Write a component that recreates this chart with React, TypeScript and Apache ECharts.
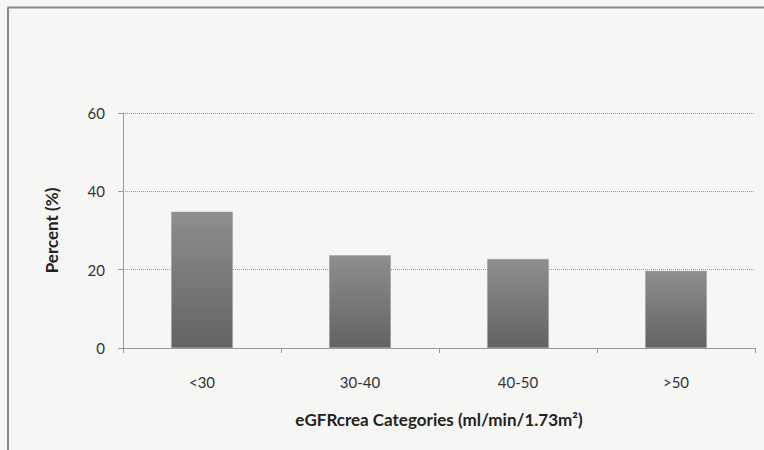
import React, { useEffect, useRef } from "react";
import * as echarts from "echarts";

const categories = ["<30", "30-40", "40-50", ">50"];
const percentValues = [34.8, 23.7, 22.7, 19.7];
const yTicks = [0, 20, 40, 60];

export default function App() {
  const ref = useRef<HTMLDivElement>(null);
  useEffect(() => {
    if (!ref.current) return;
    const chart = echarts.init(ref.current, null, { renderer: "svg" });
    const font = "Lato, 'Open Sans', sans-serif";
    chart.setOption({
      animation: false,
      backgroundColor: "#f6f6f5",
      graphic: [
        { type: "line", shape: { x1: 7.5, y1: 7.5, x2: 764, y2: 7.5 }, style: { stroke: "#8a8a8a", lineWidth: 2 } },
        { type: "line", shape: { x1: 8, y1: 7.5, x2: 8, y2: 450 }, style: { stroke: "#8a8a8a", lineWidth: 2 } },
      ],
      grid: { left: 123, right: 9, top: 113, bottom: 102 },
      xAxis: {
        type: "category",
        data: categories,
        name: "eGFRcrea Categories (ml/min/1.73m²)",
        nameLocation: "middle",
        nameGap: 63,
        nameMoveOverlap: false,
        nameTextStyle: { fontFamily: font, fontSize: 17, fontWeight: "bold", color: "#222" },
        axisLine: { lineStyle: { color: "#999", width: 1 } },
        axisTick: { show: true, length: 5, lineStyle: { color: "#999" } },
        axisLabel: { fontFamily: font, fontSize: 15, color: "#333", margin: 26 },
      },
      yAxis: {
        type: "value",
        min: 0,
        max: 60,
        interval: 20,
        name: "Percent (%)",
        nameLocation: "middle",
        nameGap: 63,
        nameMoveOverlap: false,
        nameTextStyle: { fontFamily: font, fontSize: 17, fontWeight: "bold", color: "#222" },
        axisLine: { show: true, lineStyle: { color: "#999", width: 1 } },
        axisTick: { show: true, length: 5, lineStyle: { color: "#999" } },
        axisLabel: {
          fontFamily: font,
          fontSize: 15,
          color: "#333",
          margin: 18,
          formatter: (v: number) => (yTicks.includes(v) ? String(v) : ""),
        },
        splitLine: { show: true, lineStyle: { color: "#9a9a9a", type: "dotted", width: 1 } },
      },
      series: [
        {
          type: "bar",
          data: percentValues,
          barWidth: "39%",
          itemStyle: {
            color: new echarts.graphic.LinearGradient(0, 0, 0, 1, [
              { offset: 0, color: "#8e8e8e" },
              { offset: 1, color: "#636363" },
            ]),
            borderColor: "#a0a0a0",
            borderWidth: 0.5,
          },
        },
      ],
    });
    return () => chart.dispose();
  }, []);
  return <div ref={ref} style={{ width: 764, height: 450, position: "absolute", left: 0, top: 0 }} />;
}
